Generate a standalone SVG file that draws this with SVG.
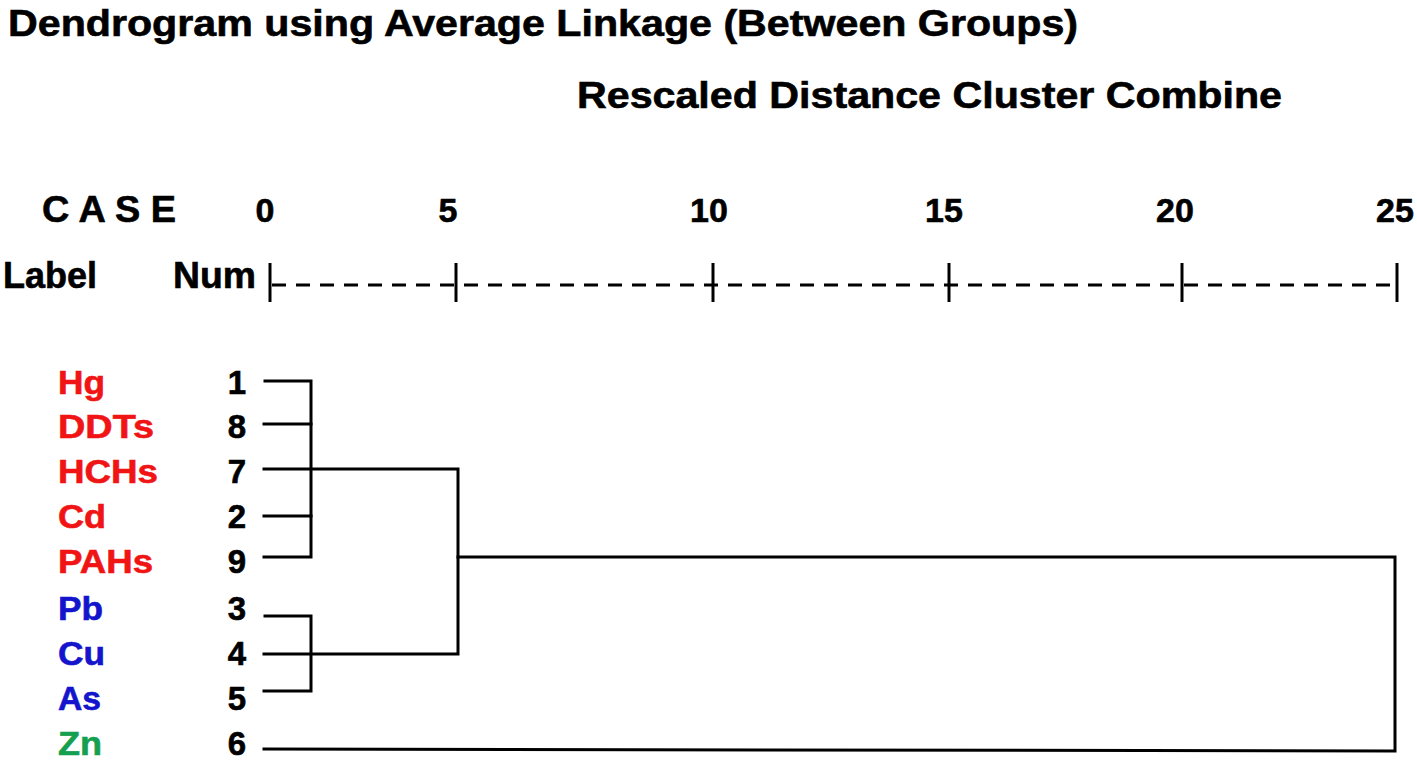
<svg xmlns="http://www.w3.org/2000/svg" width="1417" height="770" viewBox="0 0 1417 770">
<style>
text{font-family:"Liberation Sans",Arial,sans-serif;font-weight:bold;fill:#000;stroke:#000;stroke-width:0.6}
.hd{font-size:36px}
.lb{font-size:33px}
.red{fill:#f01414;stroke:#f01414}
.blue{fill:#1414cc;stroke:#1414cc}
.green{fill:#14a050;stroke:#14a050}
.num{text-anchor:middle;font-size:33px}
.ax{text-anchor:middle;font-size:34px}
.ln{fill:none;stroke:#000;stroke-width:3;stroke-linejoin:miter;stroke-linecap:square}
</style>
<rect width="1417" height="770" fill="#fff"/>
<g id="header">
<text class="hd" x="8" y="36" font-size="39" textLength="1070" lengthAdjust="spacingAndGlyphs">Dendrogram using Average Linkage (Between Groups)</text>
<text class="hd" x="577" y="108" font-size="37" textLength="705" lengthAdjust="spacingAndGlyphs">Rescaled Distance Cluster Combine</text>
<text class="hd" x="42" y="222" font-size="33" textLength="134" lengthAdjust="spacingAndGlyphs">C A S E</text>
<text class="hd" x="3" y="288" font-size="36" textLength="94" lengthAdjust="spacingAndGlyphs">Label</text>
<text class="hd" x="173" y="288" font-size="36" textLength="83" lengthAdjust="spacingAndGlyphs">Num</text>
</g>
<g id="axis">
<text class="ax" x="265" y="222">0</text>
<text class="ax" x="448" y="222">5</text>
<text class="ax" x="709" y="222">10</text>
<text class="ax" x="944" y="222">15</text>
<text class="ax" x="1175" y="222">20</text>
<text class="ax" x="1395" y="222">25</text>
<line x1="272" y1="285" x2="1395" y2="285" stroke="#000" stroke-width="3" stroke-dasharray="14 10"/>
<g stroke="#000" stroke-width="3">
<line x1="270" y1="263" x2="270" y2="302"/>
<line x1="456" y1="263" x2="456" y2="302"/>
<line x1="713" y1="263" x2="713" y2="302"/>
<line x1="949" y1="263" x2="949" y2="302"/>
<line x1="1182" y1="263" x2="1182" y2="302"/>
<line x1="1397" y1="263" x2="1397" y2="302"/>
</g>
</g>
<g id="node-hg"><text class="lb red" x="58" y="394" textLength="47" lengthAdjust="spacingAndGlyphs">Hg</text><text class="num" x="237" y="394">1</text></g>
<g id="node-ddts"><text class="lb red" x="58" y="438" textLength="96" lengthAdjust="spacingAndGlyphs">DDTs</text><text class="num" x="237" y="438">8</text></g>
<g id="node-hchs"><text class="lb red" x="58" y="483" textLength="100" lengthAdjust="spacingAndGlyphs">HCHs</text><text class="num" x="237" y="483">7</text></g>
<g id="node-cd"><text class="lb red" x="58" y="528" textLength="48" lengthAdjust="spacingAndGlyphs">Cd</text><text class="num" x="237" y="528">2</text></g>
<g id="node-pahs"><text class="lb red" x="58" y="573" textLength="95" lengthAdjust="spacingAndGlyphs">PAHs</text><text class="num" x="237" y="573">9</text></g>
<g id="node-pb"><text class="lb blue" x="58" y="620" textLength="45" lengthAdjust="spacingAndGlyphs">Pb</text><text class="num" x="237" y="620">3</text></g>
<g id="node-cu"><text class="lb blue" x="58" y="665" textLength="47" lengthAdjust="spacingAndGlyphs">Cu</text><text class="num" x="237" y="665">4</text></g>
<g id="node-as"><text class="lb blue" x="58" y="710" textLength="43" lengthAdjust="spacingAndGlyphs">As</text><text class="num" x="237" y="710">5</text></g>
<g id="node-zn"><text class="lb green" x="58" y="755" textLength="44" lengthAdjust="spacingAndGlyphs">Zn</text><text class="num" x="237" y="755">6</text></g>
<g id="connectors">
<polyline class="ln" points="265,381 311,381 311,557 264,557"/>
<line class="ln" x1="264" y1="424" x2="311" y2="424"/>
<line class="ln" x1="264" y1="516" x2="311" y2="516"/>
<polyline class="ln" points="264,469 458,469 458,654 264,654"/>
<polyline class="ln" points="265,616 311,616 311,691 264,691"/>
<polyline class="ln" points="458,557 1395,557 1395,751 264,749"/>
</g>
</svg>
